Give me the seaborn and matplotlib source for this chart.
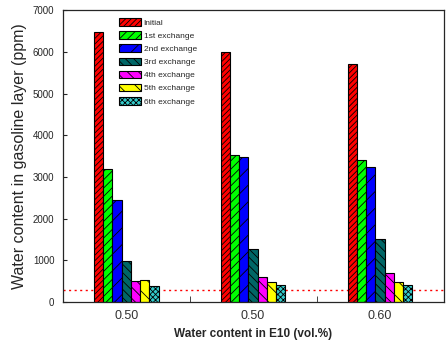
import numpy as np
import pandas as pd
import matplotlib
matplotlib.use("Agg")
import matplotlib.pyplot as plt
import seaborn as sns

# data
groups = ["g1", "g2", "g3"]
group_labels = ["0.50", "0.50", "0.60"]
stages = ["Initial", "1st exchange", "2nd exchange", "3rd exchange",
          "4th exchange", "5th exchange", "6th exchange"]
initial = [6480, 6000, 5720]
ex1 = [3200, 3530, 3400]
ex2 = [2450, 3480, 3250]
ex3 = [980, 1280, 1520]
ex4 = [500, 600, 700]
ex5 = [530, 480, 480]
ex6 = [370, 400, 400]
limit = 280

colors = ["#ff0000", "#00ff00", "#0000ff", "#006666", "#ff00ff", "#ffff00", "#33cccc"]
hatches = ["//////", "////", "//", "\\\\\\\\", "\\\\\\", "\\\\", "xxxxxx"]

rows = []
for stage, vals in zip(stages, [initial, ex1, ex2, ex3, ex4, ex5, ex6]):
    for g, v in zip(groups, vals):
        rows.append({"group": g, "stage": stage, "water": v})
df = pd.DataFrame(rows)

sns.set_style("ticks")
plt.rcParams["font.family"] = ["Liberation Sans", "DejaVu Sans"]
plt.rcParams["hatch.linewidth"] = 0.6

fig, ax = plt.subplots(figsize=(4.48, 3.45), dpi=100)
sns.barplot(data=df, x="group", y="water", hue="stage", hue_order=stages,
            palette=colors, width=0.51, saturation=1, edgecolor="black",
            linewidth=0.8, ax=ax, zorder=2)

for cont, h in zip(ax.containers, hatches):
    for p in cont:
        p.set_hatch(h)

# red dotted reference level behind the bars
ax.axhline(limit, color="#ff0000", ls=(0, (1.5, 2.5)), lw=1.0, zorder=1)

ax.set_xlim(-0.5, 2.5)
ax.set_ylim(0, 7000)
ax.set_yticks(np.arange(0, 7001, 1000))
ax.set_xticks(range(3))
ax.set_xticklabels(group_labels, fontsize=9, color="#333333")
ax.set_xticks([0.5, 1.5], minor=True)
ax.tick_params(axis="x", which="major", length=0, pad=6)
ax.tick_params(axis="x", which="minor", direction="in", length=4)
ax.tick_params(axis="y", labelsize=7, direction="in", length=3, pad=6)
for s in ax.spines.values():
    s.set_visible(True)
    s.set_linewidth(0.9)

ax.set_xlabel("Water content in E10 (vol.%)", fontsize=8.5, fontweight="bold")
ax.set_ylabel("Water content in gasoline layer (ppm)", fontsize=11.5)

handles = [c.patches[0] for c in ax.containers]
ax.legend(handles, stages, loc="upper left", bbox_to_anchor=(0.14, 0.985),
          frameon=False, fontsize=6, handlelength=2.6, handleheight=1.0,
          labelspacing=0.55, handletextpad=0.3, borderaxespad=0)

fig.subplots_adjust(left=0.14, right=0.99, top=0.97, bottom=0.125)
fig.savefig("out.png", dpi=100)
